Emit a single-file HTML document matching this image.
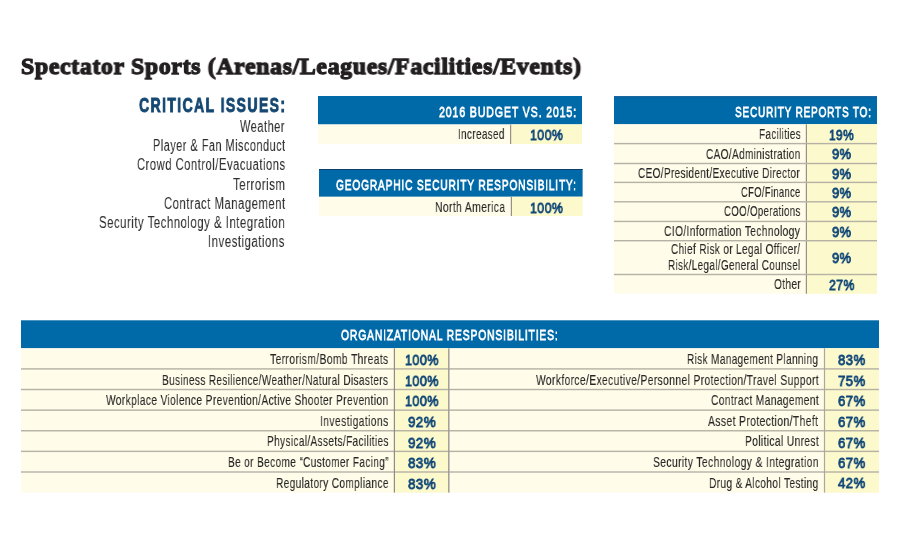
<!DOCTYPE html>
<html><head><meta charset="utf-8"><style>
html,body{margin:0;padding:0;background:#fff;}
body{width:900px;height:550px;position:relative;overflow:hidden;}
svg{position:absolute;left:0;top:0;}
.t{position:absolute;white-space:nowrap;line-height:1;transform-origin:0 0;will-change:transform;}
.fr{font-family:"Liberation Sans",sans-serif;font-weight:400;}
.fb{font-family:"Liberation Sans",sans-serif;font-weight:700;}
.fs{font-family:"Liberation Serif",serif;font-weight:700;}
</style></head><body>
<svg width="900" height="550" viewBox="0 0 900 550"><rect x="318" y="96" width="264.00" height="28.50" fill="#0069a7"/><rect x="318" y="124.5" width="264.00" height="19.50" fill="#fffce9"/><rect x="510.6" y="124.5" width="71.40" height="19.50" fill="#fcf9cc"/><rect x="510.00" y="124.5" width="1.2" height="19.50" fill="#969089"/><rect x="319" y="169" width="263.60" height="27.80" fill="#0069a7"/><rect x="319" y="169" width="263.60" height="1.00" fill="#0d3f6c"/><rect x="319" y="196.8" width="263.60" height="19.20" fill="#fffce9"/><rect x="511.4" y="196.8" width="71.20" height="19.20" fill="#fcf9cc"/><rect x="510.80" y="196.8" width="1.2" height="19.20" fill="#969089"/><rect x="614" y="96.3" width="263.00" height="28.00" fill="#0069a7"/><rect x="614" y="96.3" width="263.00" height="0.90" fill="#0a548f"/><rect x="614" y="124.3" width="263.00" height="169.40" fill="#fffce9"/><rect x="806.4" y="124.3" width="70.60" height="169.40" fill="#fcf9cc"/><rect x="805.80" y="124.3" width="1.2" height="169.40" fill="#969089"/><rect x="614" y="142.90" width="263.00" height="1.4" fill="#b5b1a5"/><rect x="614" y="162.80" width="263.00" height="1.4" fill="#b5b1a5"/><rect x="614" y="181.70" width="263.00" height="1.4" fill="#b5b1a5"/><rect x="614" y="201.10" width="263.00" height="1.4" fill="#b5b1a5"/><rect x="614" y="220.75" width="263.00" height="1.4" fill="#b5b1a5"/><rect x="614" y="240.00" width="263.00" height="1.4" fill="#b5b1a5"/><rect x="614" y="273.80" width="263.00" height="1.4" fill="#b5b1a5"/><rect x="21" y="320.3" width="858.00" height="28.00" fill="#0069a7"/><rect x="21" y="348.3" width="858.00" height="144.30" fill="#fffce9"/><rect x="394.4" y="348.3" width="54.40" height="144.30" fill="#fcf9cc"/><rect x="824.5" y="348.3" width="54.50" height="144.30" fill="#fcf9cc"/><rect x="21" y="368.20" width="858.00" height="1.4" fill="#b5b1a5"/><rect x="21" y="388.82" width="858.00" height="1.4" fill="#b5b1a5"/><rect x="21" y="409.44" width="858.00" height="1.4" fill="#b5b1a5"/><rect x="21" y="430.06" width="858.00" height="1.4" fill="#b5b1a5"/><rect x="21" y="450.68" width="858.00" height="1.4" fill="#b5b1a5"/><rect x="21" y="471.30" width="858.00" height="1.4" fill="#b5b1a5"/><rect x="393.80" y="348.3" width="1.2" height="144.30" fill="#918b87"/><rect x="448.05" y="348.3" width="1.5" height="144.30" fill="#a39e95"/><rect x="823.90" y="348.3" width="1.2" height="144.30" fill="#aca79c"/></svg>
<div id="e0" class="t fs" style="left:21.25px;top:54.78px;font-size:23.9px;color:#231f20;transform:scaleX(0.9934);letter-spacing:0.7px;-webkit-text-stroke:1.3px #231f20;">Spectator Sports (Arenas/Leagues/Facilities/Events)</div>
<div id="e1" class="t fb" style="left:138.60px;top:94.69px;font-size:20.8px;color:#164872;transform:scaleX(0.6773);letter-spacing:2.0px;-webkit-text-stroke:0.9px #164872;">CRITICAL ISSUES:</div>
<div id="e2" class="t fr" style="left:240.22px;top:119.03px;font-size:15.8px;color:#2e2e2e;transform:scaleX(0.7002);letter-spacing:0.7px;-webkit-text-stroke:0.05px #2e2e2e;">Weather</div>
<div id="e3" class="t fr" style="left:152.62px;top:138.10px;font-size:15.8px;color:#2e2e2e;transform:scaleX(0.6919);letter-spacing:0.7px;-webkit-text-stroke:0.05px #2e2e2e;">Player &amp; Fan Misconduct</div>
<div id="e4" class="t fr" style="left:136.62px;top:157.17px;font-size:15.8px;color:#2e2e2e;transform:scaleX(0.7115);letter-spacing:0.7px;-webkit-text-stroke:0.05px #2e2e2e;">Crowd Control/Evacuations</div>
<div id="e5" class="t fr" style="left:232.82px;top:177.24px;font-size:15.8px;color:#2e2e2e;transform:scaleX(0.7273);letter-spacing:0.7px;-webkit-text-stroke:0.05px #2e2e2e;">Terrorism</div>
<div id="e6" class="t fr" style="left:163.62px;top:196.31px;font-size:15.8px;color:#2e2e2e;transform:scaleX(0.7172);letter-spacing:0.7px;-webkit-text-stroke:0.05px #2e2e2e;">Contract Management</div>
<div id="e7" class="t fr" style="left:99.12px;top:215.38px;font-size:15.8px;color:#2e2e2e;transform:scaleX(0.7210);letter-spacing:0.7px;-webkit-text-stroke:0.05px #2e2e2e;">Security Technology &amp; Integration</div>
<div id="e8" class="t fr" style="left:208.32px;top:234.45px;font-size:15.8px;color:#2e2e2e;transform:scaleX(0.7233);letter-spacing:0.7px;-webkit-text-stroke:0.05px #2e2e2e;">Investigations</div>
<div id="e9" class="t fr" style="left:438.88px;top:104.30px;font-size:15.0px;color:#ffffff;transform:scaleX(0.7075);letter-spacing:1.2px;-webkit-text-stroke:0.8px #ffffff;">2016 BUDGET VS. 2015:</div>
<div id="e10" class="t fr" style="left:458.04px;top:128.33px;font-size:13.9px;color:#262626;transform:scaleX(0.7137);letter-spacing:0.5px;-webkit-text-stroke:0.1px #262626;">Increased</div>
<div id="e11" class="t fr" style="left:529.75px;top:127.00px;font-size:15.0px;color:#0f4677;transform:scaleX(0.8253);letter-spacing:0.5px;-webkit-text-stroke:0.85px #0f4677;">100%</div>
<div id="e12" class="t fr" style="left:336.37px;top:176.90px;font-size:15.0px;color:#ffffff;transform:scaleX(0.6793);letter-spacing:1.2px;-webkit-text-stroke:0.8px #ffffff;">GEOGRAPHIC SECURITY RESPONSIBILITY:</div>
<div id="e13" class="t fr" style="left:435.24px;top:200.93px;font-size:13.9px;color:#262626;transform:scaleX(0.7453);letter-spacing:0.5px;-webkit-text-stroke:0.1px #262626;">North America</div>
<div id="e14" class="t fr" style="left:530.15px;top:199.80px;font-size:15.0px;color:#0f4677;transform:scaleX(0.8253);letter-spacing:0.5px;-webkit-text-stroke:0.85px #0f4677;">100%</div>
<div id="e15" class="t fr" style="left:734.97px;top:104.30px;font-size:15.0px;color:#ffffff;transform:scaleX(0.6685);letter-spacing:1.2px;-webkit-text-stroke:0.8px #ffffff;">SECURITY REPORTS TO:</div>
<div id="e16" class="t fr" style="left:758.64px;top:128.23px;font-size:13.9px;color:#262626;transform:scaleX(0.7124);letter-spacing:0.5px;-webkit-text-stroke:0.1px #262626;">Facilities</div>
<div id="e17" class="t fr" style="left:829.24px;top:127.10px;font-size:15.0px;color:#0f4677;transform:scaleX(0.7934);letter-spacing:0.5px;-webkit-text-stroke:0.85px #0f4677;">19%</div>
<div id="e18" class="t fr" style="left:706.04px;top:148.03px;font-size:13.9px;color:#262626;transform:scaleX(0.7226);letter-spacing:0.5px;-webkit-text-stroke:0.1px #262626;">CAO/Administration</div>
<div id="e19" class="t fr" style="left:832.47px;top:146.40px;font-size:15.0px;color:#0f4677;transform:scaleX(0.8599);letter-spacing:0.5px;-webkit-text-stroke:0.85px #0f4677;">9%</div>
<div id="e20" class="t fr" style="left:638.44px;top:166.93px;font-size:13.9px;color:#262626;transform:scaleX(0.7201);letter-spacing:0.5px;-webkit-text-stroke:0.1px #262626;">CEO/President/Executive Director</div>
<div id="e21" class="t fr" style="left:832.47px;top:165.80px;font-size:15.0px;color:#0f4677;transform:scaleX(0.8599);letter-spacing:0.5px;-webkit-text-stroke:0.85px #0f4677;">9%</div>
<div id="e22" class="t fr" style="left:741.03px;top:186.33px;font-size:13.9px;color:#262626;transform:scaleX(0.6768);letter-spacing:0.5px;-webkit-text-stroke:0.1px #262626;">CFO/Finance</div>
<div id="e23" class="t fr" style="left:832.47px;top:185.20px;font-size:15.0px;color:#0f4677;transform:scaleX(0.8599);letter-spacing:0.5px;-webkit-text-stroke:0.85px #0f4677;">9%</div>
<div id="e24" class="t fr" style="left:724.03px;top:204.73px;font-size:13.9px;color:#262626;transform:scaleX(0.6938);letter-spacing:0.5px;-webkit-text-stroke:0.1px #262626;">COO/Operations</div>
<div id="e25" class="t fr" style="left:832.47px;top:203.60px;font-size:15.0px;color:#0f4677;transform:scaleX(0.8599);letter-spacing:0.5px;-webkit-text-stroke:0.85px #0f4677;">9%</div>
<div id="e26" class="t fr" style="left:664.44px;top:225.13px;font-size:13.9px;color:#262626;transform:scaleX(0.7365);letter-spacing:0.5px;-webkit-text-stroke:0.1px #262626;">CIO/Information Technology</div>
<div id="e27" class="t fr" style="left:832.47px;top:224.00px;font-size:15.0px;color:#0f4677;transform:scaleX(0.8599);letter-spacing:0.5px;-webkit-text-stroke:0.85px #0f4677;">9%</div>
<div id="e28" class="t fr" style="left:670.54px;top:242.73px;font-size:13.9px;color:#262626;transform:scaleX(0.7205);letter-spacing:0.5px;-webkit-text-stroke:0.1px #262626;">Chief Risk or Legal Officer/</div>
<div id="e29" class="t fr" style="left:668.04px;top:258.73px;font-size:13.9px;color:#262626;transform:scaleX(0.7130);letter-spacing:0.5px;-webkit-text-stroke:0.1px #262626;">Risk/Legal/General Counsel</div>
<div id="e30" class="t fr" style="left:832.47px;top:249.50px;font-size:15.0px;color:#0f4677;transform:scaleX(0.8599);letter-spacing:0.5px;-webkit-text-stroke:0.85px #0f4677;">9%</div>
<div id="e31" class="t fr" style="left:773.64px;top:278.13px;font-size:13.9px;color:#262626;transform:scaleX(0.7273);letter-spacing:0.5px;-webkit-text-stroke:0.1px #262626;">Other</div>
<div id="e32" class="t fr" style="left:829.15px;top:276.90px;font-size:15.0px;color:#0f4677;transform:scaleX(0.8154);letter-spacing:0.5px;-webkit-text-stroke:0.85px #0f4677;">27%</div>
<div id="e33" class="t fr" style="left:341.48px;top:326.60px;font-size:15.0px;color:#ffffff;transform:scaleX(0.6905);letter-spacing:1.2px;-webkit-text-stroke:0.8px #ffffff;">ORGANIZATIONAL RESPONSIBILITIES:</div>
<div id="e34" class="t fr" style="left:270.14px;top:353.23px;font-size:13.9px;color:#262626;transform:scaleX(0.7420);letter-spacing:0.5px;-webkit-text-stroke:0.1px #262626;">Terrorism/Bomb Threats</div>
<div id="e35" class="t fr" style="left:405.06px;top:352.30px;font-size:15.0px;color:#0f4677;transform:scaleX(0.8376);letter-spacing:0.5px;-webkit-text-stroke:0.85px #0f4677;">100%</div>
<div id="e36" class="t fr" style="left:162.24px;top:373.85px;font-size:13.9px;color:#262626;transform:scaleX(0.7225);letter-spacing:0.5px;-webkit-text-stroke:0.1px #262626;">Business Resilience/Weather/Natural Disasters</div>
<div id="e37" class="t fr" style="left:405.06px;top:372.92px;font-size:15.0px;color:#0f4677;transform:scaleX(0.8376);letter-spacing:0.5px;-webkit-text-stroke:0.85px #0f4677;">100%</div>
<div id="e38" class="t fr" style="left:106.04px;top:394.47px;font-size:13.9px;color:#262626;transform:scaleX(0.7348);letter-spacing:0.5px;-webkit-text-stroke:0.1px #262626;">Workplace Violence Prevention/Active Shooter Prevention</div>
<div id="e39" class="t fr" style="left:405.06px;top:392.54px;font-size:15.0px;color:#0f4677;transform:scaleX(0.8376);letter-spacing:0.5px;-webkit-text-stroke:0.85px #0f4677;">100%</div>
<div id="e40" class="t fr" style="left:320.04px;top:415.09px;font-size:13.9px;color:#262626;transform:scaleX(0.7467);letter-spacing:0.5px;-webkit-text-stroke:0.1px #262626;">Investigations</div>
<div id="e41" class="t fr" style="left:407.98px;top:414.16px;font-size:15.0px;color:#0f4677;transform:scaleX(0.8906);letter-spacing:0.5px;-webkit-text-stroke:0.85px #0f4677;">92%</div>
<div id="e42" class="t fr" style="left:266.84px;top:434.71px;font-size:13.9px;color:#262626;transform:scaleX(0.7244);letter-spacing:0.5px;-webkit-text-stroke:0.1px #262626;">Physical/Assets/Facilities</div>
<div id="e43" class="t fr" style="left:407.98px;top:434.78px;font-size:15.0px;color:#0f4677;transform:scaleX(0.8906);letter-spacing:0.5px;-webkit-text-stroke:0.85px #0f4677;">92%</div>
<div id="e44" class="t fr" style="left:227.64px;top:456.33px;font-size:13.9px;color:#262626;transform:scaleX(0.7255);letter-spacing:0.5px;-webkit-text-stroke:0.1px #262626;">Be or Become “Customer Facing”</div>
<div id="e45" class="t fr" style="left:407.98px;top:455.40px;font-size:15.0px;color:#0f4677;transform:scaleX(0.8906);letter-spacing:0.5px;-webkit-text-stroke:0.85px #0f4677;">83%</div>
<div id="e46" class="t fr" style="left:275.84px;top:476.95px;font-size:13.9px;color:#262626;transform:scaleX(0.7284);letter-spacing:0.5px;-webkit-text-stroke:0.1px #262626;">Regulatory Compliance</div>
<div id="e47" class="t fr" style="left:407.98px;top:476.02px;font-size:15.0px;color:#0f4677;transform:scaleX(0.8906);letter-spacing:0.5px;-webkit-text-stroke:0.85px #0f4677;">83%</div>
<div id="e48" class="t fr" style="left:687.34px;top:353.23px;font-size:13.9px;color:#262626;transform:scaleX(0.7219);letter-spacing:0.5px;-webkit-text-stroke:0.1px #262626;">Risk Management Planning</div>
<div id="e49" class="t fr" style="left:838.27px;top:352.30px;font-size:15.0px;color:#0f4677;transform:scaleX(0.8750);letter-spacing:0.5px;-webkit-text-stroke:0.85px #0f4677;">83%</div>
<div id="e50" class="t fr" style="left:535.54px;top:373.85px;font-size:13.9px;color:#262626;transform:scaleX(0.7411);letter-spacing:0.5px;-webkit-text-stroke:0.1px #262626;">Workforce/Executive/Personnel Protection/Travel Support</div>
<div id="e51" class="t fr" style="left:838.27px;top:372.92px;font-size:15.0px;color:#0f4677;transform:scaleX(0.8750);letter-spacing:0.5px;-webkit-text-stroke:0.85px #0f4677;">75%</div>
<div id="e52" class="t fr" style="left:710.54px;top:394.47px;font-size:13.9px;color:#262626;transform:scaleX(0.7358);letter-spacing:0.5px;-webkit-text-stroke:0.1px #262626;">Contract Management</div>
<div id="e53" class="t fr" style="left:838.27px;top:392.54px;font-size:15.0px;color:#0f4677;transform:scaleX(0.8750);letter-spacing:0.5px;-webkit-text-stroke:0.85px #0f4677;">67%</div>
<div id="e54" class="t fr" style="left:708.34px;top:415.09px;font-size:13.9px;color:#262626;transform:scaleX(0.7472);letter-spacing:0.5px;-webkit-text-stroke:0.1px #262626;">Asset Protection/Theft</div>
<div id="e55" class="t fr" style="left:838.27px;top:414.16px;font-size:15.0px;color:#0f4677;transform:scaleX(0.8750);letter-spacing:0.5px;-webkit-text-stroke:0.85px #0f4677;">67%</div>
<div id="e56" class="t fr" style="left:744.54px;top:434.71px;font-size:13.9px;color:#262626;transform:scaleX(0.7367);letter-spacing:0.5px;-webkit-text-stroke:0.1px #262626;">Political Unrest</div>
<div id="e57" class="t fr" style="left:838.27px;top:434.78px;font-size:15.0px;color:#0f4677;transform:scaleX(0.8750);letter-spacing:0.5px;-webkit-text-stroke:0.85px #0f4677;">67%</div>
<div id="e58" class="t fr" style="left:652.74px;top:456.33px;font-size:13.9px;color:#262626;transform:scaleX(0.7433);letter-spacing:0.5px;-webkit-text-stroke:0.1px #262626;">Security Technology &amp; Integration</div>
<div id="e59" class="t fr" style="left:838.27px;top:455.40px;font-size:15.0px;color:#0f4677;transform:scaleX(0.8750);letter-spacing:0.5px;-webkit-text-stroke:0.85px #0f4677;">67%</div>
<div id="e60" class="t fr" style="left:709.14px;top:476.95px;font-size:13.9px;color:#262626;transform:scaleX(0.7277);letter-spacing:0.5px;-webkit-text-stroke:0.1px #262626;">Drug &amp; Alcohol Testing</div>
<div id="e61" class="t fr" style="left:838.27px;top:475.02px;font-size:15.0px;color:#0f4677;transform:scaleX(0.8750);letter-spacing:0.5px;-webkit-text-stroke:0.85px #0f4677;">42%</div>
</body></html>
